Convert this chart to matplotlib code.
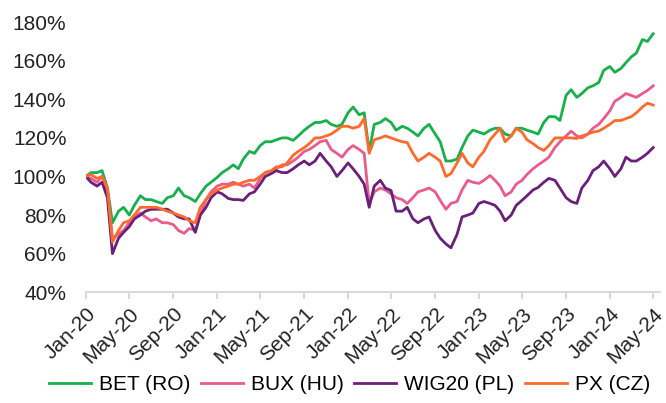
import pandas as pd
import matplotlib.pyplot as plt
import matplotlib.dates as mdates
from matplotlib.ticker import FuncFormatter

plt.rcParams['font.family'] = ['Liberation Sans', 'DejaVu Sans']

# semi-monthly readings, Jan 2020 - May 2024 (index = 100 at start)
dates = pd.date_range("2020-01-01", "2024-05-01", freq="SMS")

bet = [100, 102, 102, 103, 94, 76, 82, 84, 80, 85, 90, 88, 88, 87, 86, 89, 90, 94, 90, 89,
       87, 91, 95, 97, 99.5, 102, 104, 106, 104, 109, 113, 112, 116, 118, 118, 119, 120, 120, 118.7, 121,
       124, 126, 128, 128, 129, 127, 126, 127, 133, 136, 132, 133, 113, 127, 128, 130, 128, 124, 126, 125,
       123, 121, 125, 127, 122, 118, 108, 108, 109, 115, 121, 124, 123, 122, 124, 125, 125, 122, 121, 125,
       125, 124, 123, 122, 128, 131, 131, 129, 142, 145, 141, 143, 146, 147, 148.7, 155, 157, 154, 156, 159,
       162, 164, 171, 170, 174]
bux = [100, 99, 97, 100, 93, 68, 70, 72, 76, 79, 81, 79, 77, 78, 76, 76, 75, 72, 70.5, 73,
       72, 80, 88, 92, 95, 96, 96, 97, 96, 95, 96, 94, 99, 102, 103, 104, 106, 106, 108, 110,
       113, 114, 116, 118, 118.7, 114, 112, 110, 114, 116, 114, 112, 86, 92, 94, 93, 91, 89, 88, 86,
       89, 92, 93, 94, 92, 87.6, 83, 86, 87, 93, 98, 97, 96.4, 98, 100.5, 98, 95, 90, 92, 96,
       98, 101, 104, 106, 108, 110, 115, 118, 121, 123.5, 121, 120, 122, 125, 127, 130, 134, 139, 141, 143,
       142, 141, 143, 144.6, 147]
wig = [100, 97, 95, 97, 89, 60, 68, 71, 74, 78, 80, 82, 83, 83, 83, 83, 81, 79, 78, 78,
       71, 80, 84, 89, 92, 91, 88.6, 88, 88, 87.6, 91, 92, 96, 100, 101.5, 103, 102, 102, 104, 106,
       108, 106, 108, 112, 108, 105, 100, 103, 107, 104, 100, 96, 84, 95, 98, 94, 92.7, 82, 82, 84,
       78, 76, 78, 79, 72, 68, 65, 63, 70, 79, 80, 81, 86, 87, 86, 85, 82, 77, 80, 85,
       87.6, 90, 93, 94.3, 97, 99, 98, 94, 89, 87, 86, 94, 98, 103, 105, 108, 104, 100, 104, 110,
       108, 108, 110, 112, 115]
px = [100, 101, 99, 100, 94, 66, 72, 76, 77, 80, 84, 84, 84, 84, 83, 82, 81, 80, 79, 77,
      76, 84, 88, 91, 93, 94, 95, 96, 96, 97, 98, 98, 100, 102, 103, 105, 105, 107, 111, 113,
      115, 117, 120, 120, 121, 122, 124, 126, 126, 125, 126, 130, 112, 119, 120, 121, 120, 119, 118, 117.6,
      112, 108, 110, 112, 110, 108, 100, 101.5, 107, 112, 107, 105, 110, 113, 119, 122, 125, 118, 121, 125,
      123, 119, 117, 115, 113.5, 116, 120, 120, 120, 120, 119.7, 121, 122, 123, 123.5, 125, 127, 129, 129, 130,
      131, 133, 136, 138, 137]

names = ["BET (RO)", "BUX (HU)", "WIG20 (PL)", "PX (CZ)"]
colors = ["#17b04b", "#ec5a8c", "#6b1f7c", "#ff6a2c"]

fig = plt.figure(figsize=(6.66, 4.03), dpi=100)
ax = fig.add_axes([0.129, 0.275, 0.862, 0.670])

for vals, name, c in zip([bet, bux, wig, px], names, colors):
    ax.plot(dates, vals, color=c, linewidth=2.0, label=name)

ax.set_ylim(40, 180)
ax.set_yticks(range(40, 181, 20))
ax.yaxis.set_major_formatter(FuncFormatter(lambda v, p: f"{v:.0f}%"))
ax.set_xlim(pd.Timestamp("2020-01-01"), pd.Timestamp("2024-05-20"))
ax.xaxis.set_major_locator(mdates.MonthLocator(bymonth=[1, 5, 9]))
ax.xaxis.set_major_formatter(mdates.DateFormatter("%b-%y"))

for s in ["top", "right", "left"]:
    ax.spines[s].set_visible(False)
ax.spines["bottom"].set_color("#d9d9d9")
ax.spines["bottom"].set_linewidth(1.5)
ax.tick_params(axis="y", length=0, labelsize=15, colors="#222222", pad=14)
ax.tick_params(axis="x", length=5, width=1.5, color="#d9d9d9", labelsize=15, labelcolor="#222222")
plt.setp(ax.get_xticklabels(), rotation=45, ha="right", rotation_mode="anchor")

fig.legend(loc="center", bbox_to_anchor=(0.525, 0.045), ncol=4, frameon=False,
           fontsize=15, handlelength=2.0, columnspacing=0.5, handletextpad=0.4,
           borderpad=0.1, borderaxespad=0.1)

plt.savefig("out.png", dpi=100)
